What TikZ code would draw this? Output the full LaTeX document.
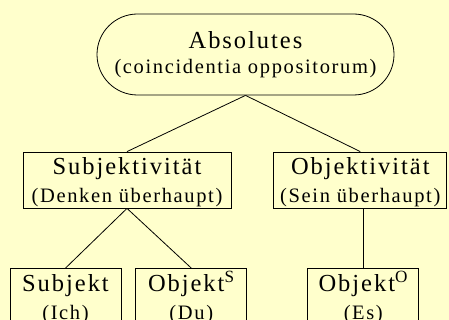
\documentclass[tikz,border=0pt]{standalone}
\usepackage{fontspec}
\setmainfont{Liberation Serif}[LetterSpace=8]
\usepackage{tikz}
\usetikzlibrary{shapes.misc}
\usetikzlibrary{positioning}
\definecolor{clrPaper}{RGB}{255,255,204}
\tikzstyle{box_base}=[draw, line width=0.8pt, fill=clrPaper, align=center,
inner ysep=0pt, inner xsep=4pt, font=\fontsize{20.5}{28}\selectfont]
\tikzstyle{top_box}=[box_base, rounded rectangle, minimum width=305pt,
minimum height=81pt, font=\fontsize{20.5}{25}\selectfont]
\tikzstyle{mid_box}=[box_base, rectangle, minimum height=56pt]
\tikzstyle{leaf_box}=[mid_box, minimum width=111pt]
\tikzstyle{line}=[line width=0.8pt]
\newcommand{\firstline}[1]{{\fontsize{24.5}{28}\selectfont\rule{0pt}{23pt}#1}}
\newcommand{\lastline}[1]{#1\rule[-5pt]{0pt}{5pt}}

\begin{document}
\begin{tikzpicture}[x=1pt, y=-1pt]
		\useasboundingbox (0,0) rectangle (449,320) ;
		\clip (0,0) rectangle (449,320) ;
		\fill[clrPaper] (0,0) rectangle (449,320) ;

		\node[top_box] (abs) at (245.5,54.5) {{\fontsize{24.5}{25}\selectfont Absolutes}\\(coincidentia oppositorum)} ;

		\node[mid_box, minimum width=208pt] (subj) at (127,180) {\firstline{Subjektivität}\\\lastline{(Denken überhaupt)}} ;
		\draw[line] (abs.south) -- (subj.north) ;

		\node[mid_box, minimum width=173pt, right=42pt of subj] (obj) {\firstline{Objektivität}\\\lastline{(Sein überhaupt)}} ;
		\draw[line] (abs.south) -- (obj.north) ;

		\node[leaf_box, below=59.7pt of subj, xshift=-61.5pt] (ich) {\firstline{Subjekt}\\\lastline{(Ich)}} ;
		\draw[line] (subj.south) -- (ich.north) ;

		\node[leaf_box, right=14pt of ich] (du) {\firstline{Objekt\textsuperscript{S}}\\\lastline{(Du)}} ;
		\draw[line] (subj.south) -- (du.north) ;

		\node[leaf_box, below=59.7pt of obj, xshift=3pt] (es) {\firstline{Objekt\textsuperscript{O}}\\\lastline{(Es)}} ;
		\draw[line] (obj.south -| es.north) -- (es.north) ;
	\end{tikzpicture}
\end{document}
